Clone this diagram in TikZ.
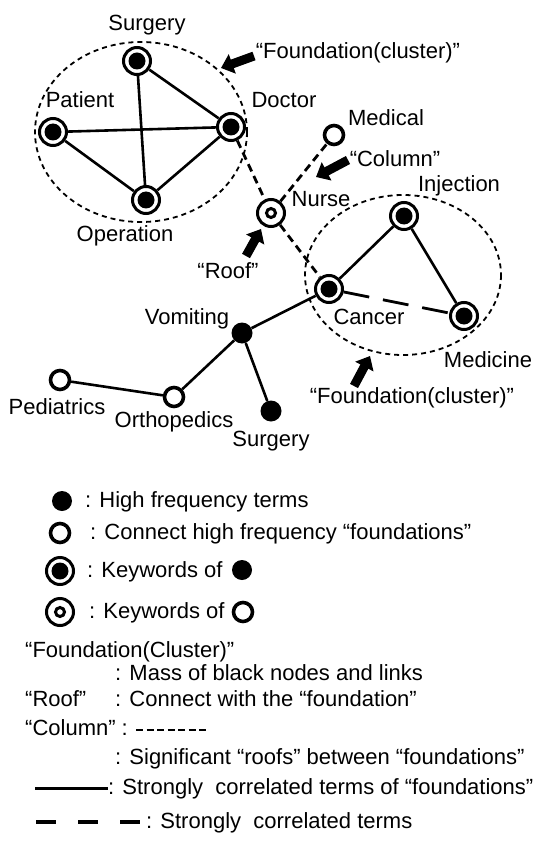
\documentclass[tikz,border=0pt]{standalone}
\usepackage{fontspec}
\setmainfont{Liberation Sans}
\usetikzlibrary{arrows.meta}
\begin{document}
\begin{tikzpicture}[x=1pt,y=-1pt,
  every node/.style={font=\fontsize{22}{26}\selectfont},
  lbl/.style={inner sep=0pt, text height=16pt, text depth=4pt},
  kwb/.style={circle, draw, line width=3pt, minimum size=27pt, inner sep=0pt, fill=white,
    path picture={\fill[black] (path picture bounding box.center) circle (8.5pt);}},
  kwo/.style={circle, draw, line width=3pt, minimum size=27pt, inner sep=0pt, fill=white,
    path picture={\draw[black, line width=3pt] (path picture bounding box.center) circle (4.5pt);}},
  opn/.style={circle, draw, line width=3.6pt, minimum size=19pt, inner sep=0pt, fill=white},
  hf/.style={circle, fill, minimum size=21pt, inner sep=0pt},
  strong/.style={line width=2.6pt},
  column/.style={line width=2.8pt, dash pattern=on 8pt off 5pt},
  clus/.style={line width=1.8pt, dash pattern=on 5pt off 4pt},
  longdash/.style={line width=2.8pt, dash pattern=on 26pt off 14pt},
  blockarrow/.style={line width=9pt, -{Triangle[length=12pt,width=20pt]}}
]
\useasboundingbox (0,0) rectangle (534,850);

% clusters
\draw[clus] (141,132) ellipse [x radius=106, y radius=90];
\draw[clus] (403,275) ellipse [x radius=98, y radius=80];

% nodes
\node[kwb] (surg) at (137,61) {};
\node[kwb] (pat) at (53,132) {};
\node[kwb] (doc) at (231,127) {};
\node[kwb] (oper) at (146,200) {};
\node[opn] (med) at (334,135) {};
\node[kwo] (nurse) at (271,213) {};
\node[kwb] (inj) at (404,216) {};
\node[kwb] (canc) at (329,289) {};
\node[kwb] (medi) at (464,316) {};
\node[hf] (vom) at (242,333) {};
\node[opn] (orth) at (174,397) {};
\node[opn] (ped) at (60,380) {};
\node[hf] (surg2) at (271,411) {};

% edges
\draw[strong] (surg) -- (doc);
\draw[strong] (surg) -- (oper);
\draw[strong] (pat) -- (doc);
\draw[strong] (pat) -- (oper);
\draw[strong] (oper) -- (doc);
\draw[column] (doc) -- (nurse);
\draw[column] (nurse) -- (canc);
\draw[column] (nurse) -- (med);
\draw[strong] (canc) -- (inj);
\draw[strong] (inj) -- (medi);
\draw[longdash] (canc) -- (medi);
\draw[strong] (canc) -- (vom);
\draw[strong] (vom) -- (orth);
\draw[strong] (vom) -- (surg2);
\draw[strong] (orth) -- (ped);

% labels
\node[lbl] (lsurg) at (147,25) {Surgery};
\node[lbl] (lpat) at (80,102) {Patient};
\node[lbl] (ldoc) at (284,102) {Doctor};
\node[lbl] (loper) at (125,235) {Operation};
\node[lbl] (lmed) at (386,120) {Medical};
\node[lbl] (lcol) at (395,161) {“Column”};
\node[lbl] (lnurse) at (321,201) {Nurse};
\node[lbl] (linj) at (459,186) {Injection};
\node[lbl] (lroof) at (228,272) {“Roof”};
\node[lbl] (lcanc) at (369,318) {Cancer};
\node[lbl] (lmedi) at (488,361) {Medicine};
\node[lbl] (lfound2) at (412,397) {“Foundation(cluster)”};
\node[lbl] (lvom) at (187,318) {Vomiting};
\node[lbl] (lped) at (57,408) {Pediatrics};
\node[lbl] (lorth) at (174,421) {Orthopedics};
\node[lbl] (lsurg2) at (271,440) {Surgery};
\node[lbl] (lfound1) at (358,53) {“Foundation(cluster)”};

% block arrows
\coordinate (a1t) at (254,56); \coordinate (a1h) at (221,68);
\coordinate (a2t) at (348,160); \coordinate (a2h) at (316,177);
\coordinate (a3t) at (246,256); \coordinate (a3h) at (261,229);
\coordinate (a4t) at (354,386); \coordinate (a4h) at (370,356);
\draw[blockarrow] (a1t) -- (a1h);
\draw[blockarrow] (a2t) -- (a2h);
\draw[blockarrow] (a3t) -- (a3h);
\draw[blockarrow] (a4t) -- (a4h);

% legend
\node[hf, minimum size=20pt] (g1) at (62,501) {};
\node[lbl, anchor=west] (t1) at (85,501) {: High frequency terms};
\node[opn] (g2) at (60,533) {};
\node[lbl, anchor=west] (t2) at (90,533) {: Connect high frequency “foundations”};
\node[kwb] (g3) at (60,571) {};
\node[lbl, anchor=west] (t3) at (87,571) {: Keywords of};
\node[hf, minimum size=20pt] (g3b) at (242,570) {};
\node[kwo] (g4) at (60,612) {};
\node[lbl, anchor=west] (t4) at (89,612) {: Keywords of};
\node[opn] (g4b) at (243,612) {};

\node[lbl, anchor=west] (t5) at (25,651) {“Foundation(Cluster)”};
\node[lbl, anchor=west] (t6) at (115,674) {: Mass of black nodes and links};
\node[lbl, anchor=west] (t7) at (25,700) {“Roof”};
\node[lbl, anchor=west] (t8) at (115,700) {: Connect with the “foundation”};
\node[lbl, anchor=west] (t9) at (25,729) {“Column” :};
\coordinate (c9a) at (136,730); \coordinate (c9b) at (206,730);
\draw[line width=2.5pt, dash pattern=on 7pt off 3.5pt] (c9a) -- (c9b);
\node[lbl, anchor=west] (t10) at (115,758) {: Significant “roofs” between “foundations”};
\coordinate (c11a) at (35,788);
\node[lbl, anchor=west] (t11) at (108,788) {: Strongly\ \ correlated terms of “foundations”};
\draw[line width=3pt] (c11a) -- (t11.west);
\coordinate (c12a) at (36,822); \coordinate (c12b) at (142,822);
\draw[line width=3.5pt, dash pattern=on 20pt off 22pt] (c12a) -- (c12b);
\node[lbl, anchor=west] (t12) at (146,822) {: Strongly\ \ correlated terms};
\end{tikzpicture}
\end{document}
